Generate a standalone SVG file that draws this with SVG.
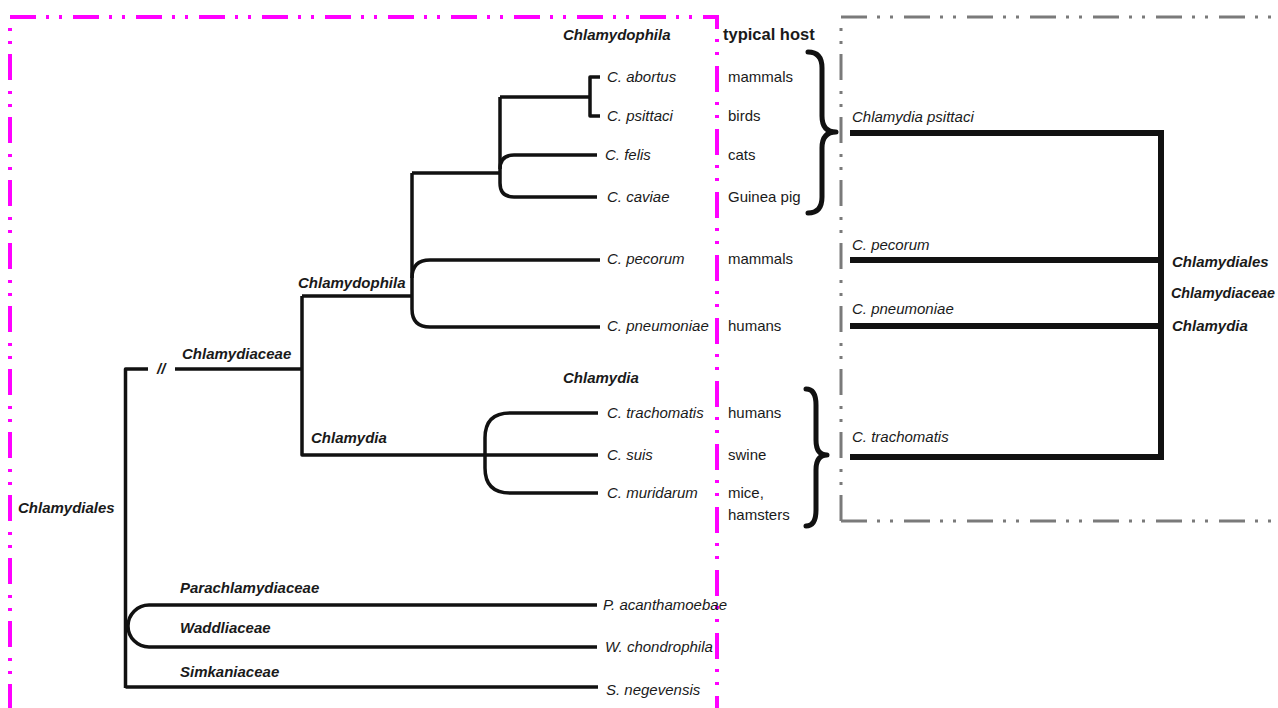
<svg xmlns="http://www.w3.org/2000/svg" width="1278" height="708" viewBox="0 0 1278 708">
<style>
.br{stroke:#111;stroke-width:3.5;fill:none;stroke-linejoin:round;stroke-linecap:butt}
.th{stroke:#111;stroke-width:6;fill:none;stroke-linejoin:miter}
.brace{stroke:#111;stroke-width:5;fill:none;stroke-linecap:round;stroke-linejoin:round}
.sp{font-family:"Liberation Sans",Arial,sans-serif;font-style:italic;font-size:15px;fill:#1a1a1a}
.tx{font-family:"Liberation Sans",Arial,sans-serif;font-style:italic;font-weight:bold;font-size:15px;fill:#1a1a1a}
.ho{font-family:"Liberation Sans",Arial,sans-serif;font-size:15px;fill:#1a1a1a}
.hd{font-family:"Liberation Sans",Arial,sans-serif;font-weight:bold;font-size:16.5px;fill:#1a1a1a}
.mag{stroke:#ff00ff;stroke-width:4;fill:none;stroke-dasharray:26 10 3 10 3 11}
.gry{stroke:#7a7a7a;stroke-width:3;fill:none;stroke-dasharray:26 10 3 10 3 11}
</style>
<rect width="1278" height="708" fill="#ffffff"/>
<g id="frames">
<path class="mag" d="M10,710 V17 H717 V710"/>
<path class="gry" d="M841,521 V17 H1280 M841,521 H1280"/>
</g>
<g id="connectors">
<path class="br" d="M125.5,688 V369 H148"/>
<path class="br" d="M175,369 H302"/>
<path class="br" d="M302,296 V455 H598"/>
<path class="br" d="M302,296 H412"/>
<path class="br" d="M412,173 V278"/>
<path class="br" d="M600,260 H430 Q412,260 412,278 V309 Q412,327 430,327 H600"/>
<path class="br" d="M412,173 H500"/>
<path class="br" d="M500,97 V169"/>
<path class="br" d="M597,155 H514 Q500,155 500,169 V183 Q500,197 514,197 H597"/>
<path class="br" d="M500,97 H590"/>
<path class="br" d="M600,77 H590 V116 H600"/>
<path class="br" d="M598,413 H510 Q485,413 485,438 V468 Q485,493 510,493 H598"/>
<path class="br" d="M597,605 H149 A21,21 0 0 0 149,647 H597"/>
<path class="br" d="M125.5,687 H598"/>
<path class="brace" d="M808,52 Q822,52 822,68 V116 Q822,132 836,132 Q822,132 822,148 V197 Q822,213 808,213"/>
<path class="brace" d="M806,389 Q816,389 816,405 V440 Q816,455 827,455 Q816,455 816,470 V510 Q816,526 806,526"/>
<path class="th" d="M850,133 H1161 V460"/>
<path class="th" d="M850,260 H1161"/>
<path class="th" d="M850,326 H1161"/>
<path class="th" d="M850,457 H1161"/>
</g>
<g id="n-chlamydiales"><text class="tx" x="18" y="513">Chlamydiales</text></g>
<g id="n-break"><text class="tx" x="157" y="374">//</text></g>
<g id="n-chlamydiaceae"><text class="tx" x="182" y="359">Chlamydiaceae</text></g>
<g id="n-chlamydophila-branch"><text class="tx" x="298" y="288">Chlamydophila</text></g>
<g id="n-chlamydia-branch"><text class="tx" x="311" y="443">Chlamydia</text></g>
<g id="n-parachlamydiaceae"><text class="tx" x="180" y="593">Parachlamydiaceae</text></g>
<g id="n-waddliaceae"><text class="tx" x="180" y="633">Waddliaceae</text></g>
<g id="n-simkaniaceae"><text class="tx" x="180" y="677">Simkaniaceae</text></g>
<g id="h-chlamydophila"><text class="tx" x="563" y="40">Chlamydophila</text></g>
<g id="h-typical-host"><text class="hd" x="723" y="40">typical host</text></g>
<g id="h-chlamydia"><text class="tx" x="563" y="383">Chlamydia</text></g>
<g id="s-abortus"><text class="sp" x="607" y="82">C. abortus</text><text class="ho" x="728" y="82">mammals</text></g>
<g id="s-psittaci"><text class="sp" x="607" y="121">C. psittaci</text><text class="ho" x="728" y="121">birds</text></g>
<g id="s-felis"><text class="sp" x="605" y="160">C. felis</text><text class="ho" x="728" y="160">cats</text></g>
<g id="s-caviae"><text class="sp" x="607" y="202">C. caviae</text><text class="ho" x="728" y="202">Guinea pig</text></g>
<g id="s-pecorum"><text class="sp" x="607" y="264">C. pecorum</text><text class="ho" x="728" y="264">mammals</text></g>
<g id="s-pneumoniae"><text class="sp" x="607" y="331">C. pneumoniae</text><text class="ho" x="728" y="331">humans</text></g>
<g id="s-trachomatis"><text class="sp" x="607" y="418">C. trachomatis</text><text class="ho" x="728" y="418">humans</text></g>
<g id="s-suis"><text class="sp" x="607" y="460">C. suis</text><text class="ho" x="728" y="460">swine</text></g>
<g id="s-muridarum"><text class="sp" x="607" y="498">C. muridarum</text><text class="ho" x="728" y="498">mice,</text><text class="ho" x="728" y="520">hamsters</text></g>
<g id="s-acanthamoebae"><text class="sp" x="603" y="610">P. acanthamoebae</text></g>
<g id="s-chondrophila"><text class="sp" x="605" y="652">W. chondrophila</text></g>
<g id="s-negevensis"><text class="sp" x="606" y="695">S. negevensis</text></g>
<g id="r-psittaci"><text class="sp" x="852" y="122">Chlamydia psittaci</text></g>
<g id="r-pecorum"><text class="sp" x="852" y="250">C. pecorum</text></g>
<g id="r-pneumoniae"><text class="sp" x="852" y="314">C. pneumoniae</text></g>
<g id="r-trachomatis"><text class="sp" x="852" y="442">C. trachomatis</text></g>
<g id="r-taxa"><text class="tx" x="1172" y="267">Chlamydiales</text><text class="tx" x="1171" y="298" textLength="104" lengthAdjust="spacingAndGlyphs">Chlamydiaceae</text><text class="tx" x="1172" y="331">Chlamydia</text></g>
</svg>
